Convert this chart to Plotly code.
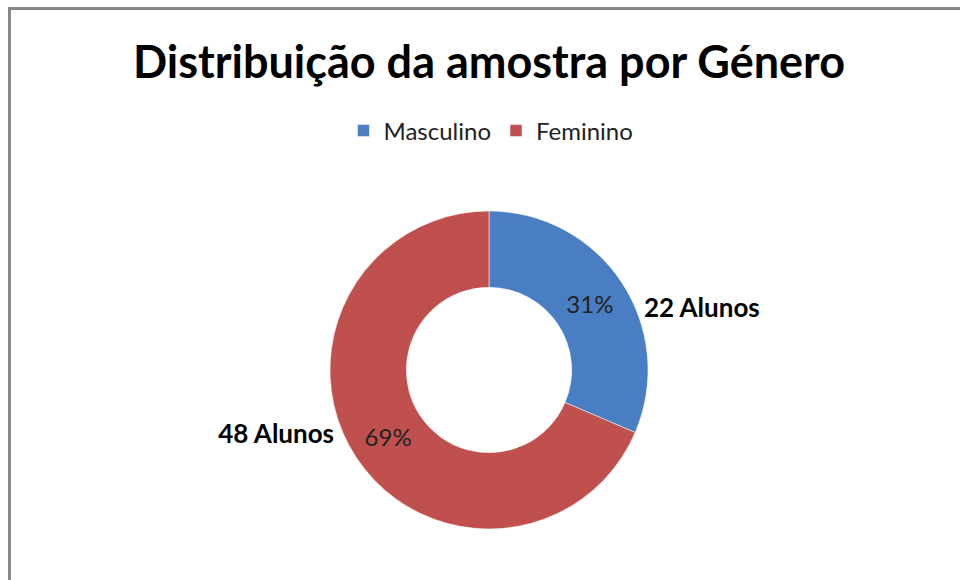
import plotly.graph_objects as go

categories = ["Masculino", "Feminino"]
alunos = [22, 48]
colors = ["#4A7EC2", "#C0504D"]

W, H = 960, 580
cx, cy, R = 489, 370, 159
dom_x = [(cx - R) / W, (cx + R) / W]
dom_y = [(H - cy - R) / H, (H - cy + R) / H]
FONT = "Lato, 'Open Sans', sans-serif"

fig = go.Figure()
# inside percentages
fig.add_trace(go.Pie(
    labels=categories, values=alunos, hole=0.52, sort=False,
    direction="clockwise", rotation=0,
    marker=dict(colors=colors, line=dict(color="rgba(255,255,255,0.5)", width=1)),
    texttemplate="%{percent:.0%}", textposition="inside",
    insidetextorientation="horizontal",
    textfont=dict(family=FONT, size=24, color="#222222"),
    domain=dict(x=dom_x, y=dom_y), hoverinfo="label+value+percent",
    showlegend=True,
))
# outside value labels (Excel best-fit placement sits ~11 deg further clockwise)
fig.add_trace(go.Pie(
    labels=categories, values=alunos, hole=0.52, sort=False,
    direction="clockwise", rotation=11,
    marker=dict(colors=["rgba(0,0,0,0)"] * 2, line=dict(width=0)),
    texttemplate="<b>%{value} Alunos</b>", textposition="outside",
    textfont=dict(family=FONT, size=26, color="#000000"),
    domain=dict(x=dom_x, y=dom_y), hoverinfo="skip",
    showlegend=False,
))

border = dict(color="#888888", width=3)
fig.update_layout(
    width=W, height=H,
    margin=dict(l=0, r=0, t=0, b=0),
    paper_bgcolor="white", plot_bgcolor="white",
    title=dict(text="<b>Distribuição da amostra por Género</b>",
               x=489 / W, xanchor="center", y=1 - 62 / H, yanchor="middle",
               font=dict(family=FONT, size=45, color="#000000")),
    legend=dict(orientation="h", x=491 / W, xanchor="center", y=1 - 131 / H, yanchor="middle",
                font=dict(family=FONT, size=24, color="#222222"),
                itemwidth=30),
    shapes=[
        dict(type="line", xref="paper", yref="paper",
             x0=8 / W, y0=1 - 8.5 / H, x1=1, y1=1 - 8.5 / H, line=border),
        dict(type="line", xref="paper", yref="paper",
             x0=9.5 / W, y0=1 - 7 / H, x1=9.5 / W, y1=0, line=border),
    ],
)

fig.write_html("out.html", config={"displayModeBar": False},
               post_script="document.body.style.margin='0';document.body.style.overflow='hidden';")
